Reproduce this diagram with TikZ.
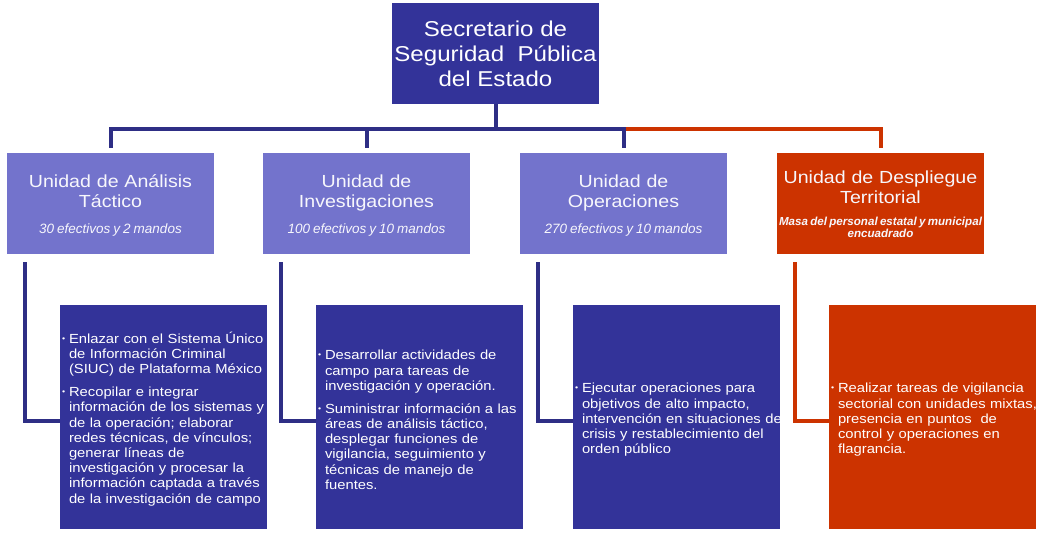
\documentclass[tikz,border=0pt]{standalone}
\usepackage{fontspec}
\setmainfont{Liberation Sans}[FakeStretch=1.12]
\newfontfamily\notefont{Liberation Sans}[FakeStretch=1.0]
\usepackage{graphicx}
\usetikzlibrary{positioning, calc}
\definecolor{navy}{HTML}{333399}
\definecolor{lilac}{HTML}{7373CC}
\definecolor{rust}{HTML}{CC3300}
\definecolor{linkblue}{HTML}{2E2E85}
% one bullet with a hanging indent
\newcommand{\bul}[1]{\par\setlength{\lineskiplimit}{-10pt}\setlength{\hangindent}{7pt}\hangafter=1
  \noindent\makebox[7pt][l]{\raisebox{2pt}{\scalebox{0.6}{\textbullet}}}#1\par}
\newcommand{\unitnote}{\notefont\itshape\fontsize{13.5}{16}\selectfont\spaceskip=3pt\relax}
\newcommand{\unitnotebf}{\notefont\bfseries\itshape\fontsize{11.6}{12.5}\selectfont\spaceskip=2.3pt\relax}
\newcommand{\midline}[1]{\makebox[\linewidth][c]{#1}}
\newcommand{\topstrut}{\rule{0pt}{18pt}}
\newcommand{\botstrut}{\rule[-4pt]{0pt}{4pt}}
\tikzset{
  chief/.style={rectangle, fill=navy, text=white, minimum width=207pt,
    minimum height=101pt, inner sep=0pt, align=center,
    font=\fontsize{21.5}{25}\selectfont},
  unitbox/.style={rectangle, fill=lilac, text=white!94!lilac, minimum width=207pt,
    minimum height=101pt, text width=207pt, inner sep=0pt, align=center,
    font=\fontsize{17.5}{20}\selectfont},
  unitred/.style={unitbox, fill=rust},
  taskbox/.style={rectangle, fill=navy, text=white, minimum width=207pt,
    minimum height=224pt, text width=203pt, inner xsep=2pt, inner ysep=0pt,
    align=left, font=\fontsize{13.2}{15.2}\selectfont},
  taskred/.style={taskbox, fill=rust},
  link/.style={line width=4pt, draw=linkblue},
  linkred/.style={link, draw=rust},
}
\begin{document}
\begin{tikzpicture}[x=1pt, y=-1pt]
  \useasboundingbox (0,0) rectangle (1042,552);

  % Head of the chart
  \node[chief] (chief) at (495.5,53.5) {Secretario de\\Seguridad\ \ Pública\\del Estado};

  % Units
  \node[unitbox] (u1) at (110.5,203.5) {\topstrut Unidad de Análisis\\Táctico\par\vspace{10pt}{\unitnote 30 efectivos y 2 mandos\botstrut\par}};
  \node[unitbox] (u2) at (366.5,203.5) {\topstrut Unidad de\\Investigaciones\par\vspace{10pt}{\unitnote 100 efectivos y 10 mandos\botstrut\par}};
  \node[unitbox] (u3) at (623.5,203.5) {\topstrut Unidad de\\Operaciones\par\vspace{10pt}{\unitnote 270 efectivos y 10 mandos\botstrut\par}};
  \node[unitred] (u4) at (880.5,203.5) {\topstrut Unidad de Despliegue\\Territorial\par\vspace{9.5pt}{\unitnotebf \midline{Masa del personal estatal y municipal}\\\midline{encuadrado\botstrut}\par}};

  % Tasks
  \node[taskbox] (t1) at (163.5,417) {\bul{Enlazar con el Sistema Único\newline de Información Criminal\newline (SIUC) de Plataforma México}
    \vspace{7.8pt}\bul{Recopilar e integrar\newline \mbox{información de los sistemas y}\newline de la operación; elaborar\newline redes técnicas, de vínculos;\newline generar líneas de\newline investigación y procesar la\newline información captada a través\newline de la investigación de campo}};
  \node[taskbox] (t2) at (419.5,417) {\bul{Desarrollar actividades de\newline campo para tareas de\newline investigación y operación.}
    \vspace{7.8pt}\bul{\mbox{Suministrar información a las}\newline áreas de análisis táctico,\newline desplegar funciones de\newline vigilancia, seguimiento y\newline técnicas de manejo de\newline fuentes.}};
  \node[taskbox] (t3) at (676.5,417) {\bul{Ejecutar operaciones para\newline objetivos de alto impacto,\newline \mbox{intervención en situaciones de}\newline crisis y restablecimiento del\newline orden público}};
  \node[taskred] (t4) at (932.5,417) {\bul{Realizar tareas de vigilancia\newline \mbox{sectorial con unidades mixtas,}\newline presencia en puntos\ \ de\newline control y operaciones en\newline flagrancia.}};

  % Bus from the head to the units
  \coordinate (bus) at (495.5,129);
  \draw[link] (chief.south) -- (chief.south |- bus);
  \draw[link] ([yshift=5pt]u1.north) |- (u3.north |- bus) -- ([yshift=5pt]u3.north);
  \draw[link] ([yshift=5pt]u2.north) -- (u2.north |- bus);
  \draw[linkred] ([xshift=2pt]u3.north |- bus) -| ([yshift=5pt]u4.north);

  % Units to their tasks
  \draw[link] ([xshift=18pt, yshift=-8pt]u1.south west) |- ([yshift=-4pt]t1.west);
  \draw[link] ([xshift=18pt, yshift=-8pt]u2.south west) |- ([yshift=-4pt]t2.west);
  \draw[link] ([xshift=18pt, yshift=-8pt]u3.south west) |- ([yshift=-4pt]t3.west);
  \draw[linkred] ([xshift=18pt, yshift=-8pt]u4.south west) |- ([yshift=-4pt]t4.west);
\end{tikzpicture}
\end{document}
